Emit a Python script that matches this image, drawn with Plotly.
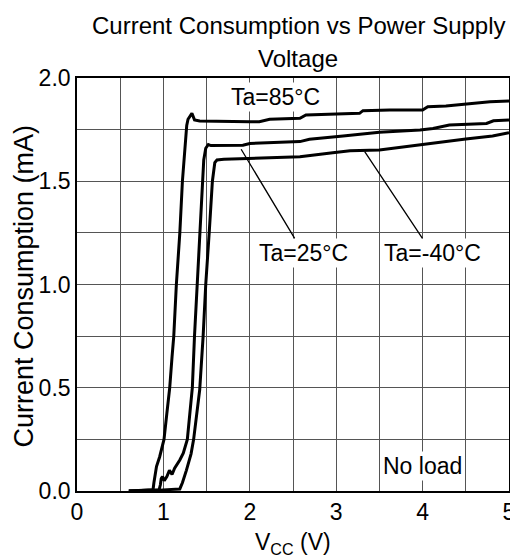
import plotly.graph_objects as go

# Data (Vcc in V, current in mA)
v_85 = [0.60, 0.75, 0.88, 0.89, 0.905, 0.92, 0.957, 0.985, 1.007, 1.04, 1.073, 1.10, 1.12, 1.15, 1.19, 1.22,
        1.246, 1.27, 1.285, 1.33, 1.36, 1.42, 2.0, 2.11, 2.23, 2.58, 2.65, 3.27, 3.31, 3.62, 4.0, 4.06, 4.27,
        4.78, 5.0]
i_85 = [0.00, 0.003, 0.006, 0.04, 0.08, 0.118, 0.166, 0.21, 0.25, 0.376, 0.5, 0.65, 0.75, 1.0, 1.25, 1.5,
        1.65, 1.77, 1.80, 1.829, 1.797, 1.792, 1.788, 1.788, 1.80, 1.805, 1.821, 1.829, 1.842, 1.845, 1.845,
        1.861, 1.864, 1.885, 1.889]

v_25 = [0.60, 0.95, 0.965, 0.975, 0.99, 1.01, 1.04, 1.07, 1.10, 1.13, 1.19, 1.23, 1.277, 1.31, 1.335, 1.36,
        1.39, 1.42, 1.45, 1.467, 1.49, 1.52, 1.55, 1.92, 2.0, 2.3, 2.58, 2.69, 3.04, 3.08, 3.5, 3.66, 3.97,
        4.12, 4.31, 4.74, 4.82, 5.0]
i_25 = [0.00, 0.006, 0.03, 0.06, 0.07, 0.05, 0.07, 0.10, 0.08, 0.11, 0.15, 0.183, 0.25, 0.376, 0.5, 0.75,
        1.0, 1.25, 1.5, 1.603, 1.66, 1.678, 1.673, 1.674, 1.683, 1.688, 1.692, 1.703, 1.716, 1.719, 1.737,
        1.74, 1.748, 1.755, 1.772, 1.78, 1.793, 1.797]

v_m40 = [0.60, 0.9, 1.19, 1.22, 1.266, 1.30, 1.32, 1.35, 1.39, 1.42, 1.46, 1.49, 1.53, 1.567, 1.595, 1.62,
         1.70, 2.0, 2.58, 2.96, 3.16, 3.5, 4.08, 4.5, 4.81, 5.0]
i_m40 = [0.00, 0.003, 0.01, 0.04, 0.10, 0.15, 0.18, 0.25, 0.376, 0.49, 0.75, 1.0, 1.25, 1.5, 1.59, 1.603,
         1.606, 1.61, 1.619, 1.638, 1.648, 1.651, 1.684, 1.705, 1.719, 1.735]

x_ticks = [0, 1, 2, 3, 4, 5]
y_ticks = [0.0, 0.5, 1.0, 1.5, 2.0]
title_lines = ["Current Consumption vs Power Supply", "Voltage"]

FONT = "Liberation Sans, Arial, sans-serif"
# the page body has an 8px margin, so the figure is drawn 8px in from the window corner
OFF = 8
W, H = 518 - OFF, 559 - OFF
L, T = 77 - OFF, 78 - OFF
R = W - (509 - OFF)
B = H - (491 - OFF)

fig = go.Figure()
for vx, iy, name in [(v_85, i_85, "Ta=85°C"), (v_25, i_25, "Ta=25°C"), (v_m40, i_m40, "Ta=-40°C")]:
    fig.add_trace(go.Scatter(x=vx, y=iy, mode="lines", name=name,
                             line=dict(color="black", width=3), showlegend=False))

ann_font = dict(family=FONT, size=23, color="black")
fig.add_annotation(x=2.30, y=1.91, text="Ta=85°C", showarrow=False, bgcolor="white", font=ann_font)
fig.add_annotation(x=1.90, y=1.655, ax=2.62, ay=1.153, axref="x", ayref="y", text="Ta=25°C",
                   showarrow=True, arrowhead=0, arrowwidth=1.3, arrowcolor="black", bgcolor="white",
                   font=ann_font, standoff=0)
fig.add_annotation(x=3.33, y=1.643, ax=4.11, ay=1.153, axref="x", ayref="y", text="Ta=-40°C",
                   showarrow=True, arrowhead=0, arrowwidth=1.3, arrowcolor="black", bgcolor="white",
                   font=ann_font, standoff=0)
fig.add_annotation(x=4.0, y=0.121, text="No load", showarrow=False, bgcolor="white", font=ann_font)

# Title (two lines) and axis titles as paper-anchored texts
title_font = dict(family=FONT, size=24, color="black")
fig.add_annotation(x=0.5, y=1, xref="paper", yref="paper", text=title_lines[0], showarrow=False,
                   xanchor="center", yanchor="middle", xshift=6, yshift=78 - 25, font=title_font)
fig.add_annotation(x=0.5, y=1, xref="paper", yref="paper", text=title_lines[1], showarrow=False,
                   xanchor="center", yanchor="middle", xshift=5, yshift=78 - 58, font=title_font)
fig.add_annotation(x=0, y=0.5, xref="paper", yref="paper", text="Current Consumption (mA)",
                   textangle=-90, showarrow=False, xanchor="center", yanchor="middle",
                   xshift=23 - 77, yshift=-2, font=dict(family=FONT, size=27, color="black"))
fig.add_annotation(x=0.5, y=0, xref="paper", yref="paper", text="V<sub>CC</sub> (V)",
                   showarrow=False, xanchor="center", yanchor="middle", yshift=-52, font=ann_font)

fig.update_layout(
    width=W, height=H,
    margin=dict(l=L, r=R, t=T, b=B),
    paper_bgcolor="white", plot_bgcolor="white",
    font=dict(family=FONT, size=23, color="black"),
    xaxis=dict(range=[0, 5], tickvals=x_ticks, ticktext=[str(t) for t in x_ticks],
               showgrid=True, gridcolor="#555", gridwidth=1,
               minor=dict(dtick=0.5, showgrid=True, gridcolor="#555", gridwidth=1),
               showline=True, linecolor="black", linewidth=1.6, mirror=True, zeroline=False,
               ticks="", automargin=False, tickfont=dict(size=23)),
    yaxis=dict(range=[0, 2], tickvals=y_ticks, ticktext=[f"{t:.1f}" for t in y_ticks],
               showgrid=True, gridcolor="#555", gridwidth=1,
               minor=dict(dtick=0.25, showgrid=True, gridcolor="#555", gridwidth=1),
               showline=True, linecolor="black", linewidth=1.6, mirror=True, zeroline=False,
               ticks="", automargin=False, tickfont=dict(size=23)),
)

fig.write_html("out.html")
